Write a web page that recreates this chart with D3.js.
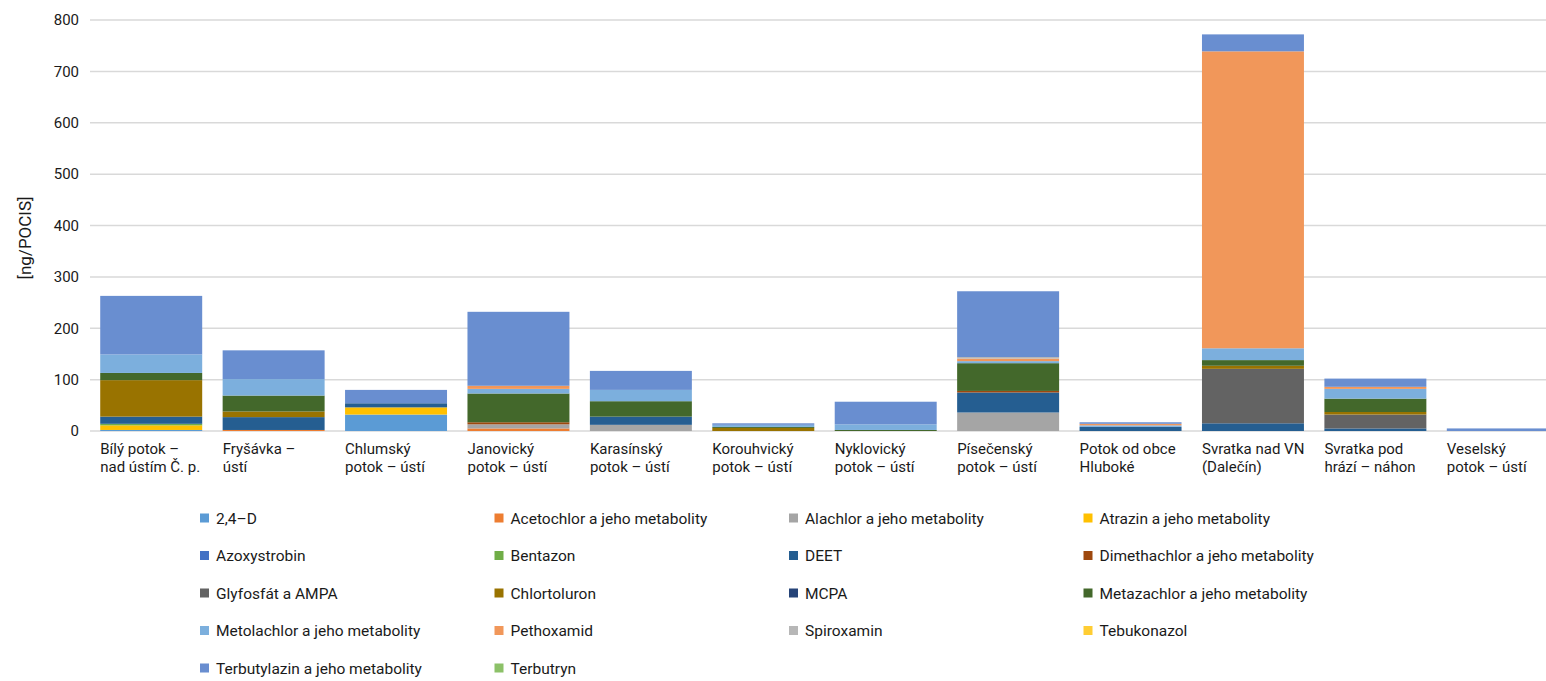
<!DOCTYPE html>
<html>
<head>
<meta charset="utf-8">
<script src="https://cdn.jsdelivr.net/npm/d3@7"></script>
<style>
  html, body { margin: 0; padding: 0; background: #fff; }
  svg { display: block; font-family: Roboto, "Noto Sans", sans-serif; }
</style>
</head>
<body>
<svg id="chart" width="1546" height="681"></svg>
<script>
// Sampling sites (two-line labels)
const sites = [
  ["Bílý potok –", "nad ústím Č. p."],
  ["Fryšávka –", "ústí"],
  ["Chlumský", "potok – ústí"],
  ["Janovický", "potok – ústí"],
  ["Karasínský", "potok – ústí"],
  ["Korouhvický", "potok – ústí"],
  ["Nyklovický", "potok – ústí"],
  ["Písečenský", "potok – ústí"],
  ["Potok od obce", "Hluboké"],
  ["Svratka nad VN", "(Dalečín)"],
  ["Svratka pod", "hrází – náhon"],
  ["Veselský", "potok – ústí"]
];

// Substances, in stacking order (bottom to top)
const substances = [
  "2,4–D",
  "Acetochlor a jeho metabolity",
  "Alachlor a jeho metabolity",
  "Atrazin a jeho metabolity",
  "Azoxystrobin",
  "Bentazon",
  "DEET",
  "Dimethachlor a jeho metabolity",
  "Glyfosfát a AMPA",
  "Chlortoluron",
  "MCPA",
  "Metazachlor a jeho metabolity",
  "Metolachlor a jeho metabolity",
  "Pethoxamid",
  "Spiroxamin",
  "Tebukonazol",
  "Terbutylazin a jeho metabolity",
  "Terbutryn"
];

const colors = [
  "#5b9bd5", "#ed7d31", "#a5a5a5", "#ffc000", "#4472c4", "#70ad47",
  "#255e91", "#9e480e", "#636363", "#997300", "#264478", "#43682b",
  "#7cafdd", "#f1975a", "#b7b7b7", "#ffcd33", "#698ed0", "#8cc168"
];

// Amounts per substance [ng/POCIS], one value per site (same order as sites)
const v24D         = [2, 0, 32, 0, 0, 0, 0, 0, 0, 0, 0, 0];
const vAcetochlor  = [0, 2, 0, 5, 0, 0, 0, 0, 0, 0, 0, 0];
const vAlachlor    = [0, 0, 0, 8, 12, 0, 0, 36, 0, 0, 0, 0];
const vAtrazin     = [9, 0, 14, 0, 0, 0, 0, 0, 0, 0, 0, 0];
const vAzoxy       = [0, 0, 0, 0, 0, 0, 0, 0, 0, 0, 0, 0];
const vBentazon    = [3, 0, 0, 0, 0, 0, 0, 0, 0, 0, 0, 0];
const vDEET        = [14, 25, 8, 0, 16, 0, 0, 39, 8, 15, 5, 0];
const vDimetha     = [0, 0, 0, 4, 0, 0, 0, 3, 0, 0, 0, 0];
const vGlyfosfat   = [0, 0, 0, 0, 0, 0, 0, 0, 0, 106, 27, 0];
const vChlortol    = [71, 11, 0, 0, 0, 6, 0, 0, 0, 6, 5, 0];
const vMCPA        = [0, 0, 0, 0, 0, 0, 0, 0, 0, 0, 0, 0];
const vMetazachlor = [14, 31, 0, 56, 30, 2, 2, 54, 0, 11, 26, 0];
const vMetolachlor = [36, 32, 0, 9, 22, 4, 11, 4, 3, 23, 19, 0];
const vPethoxamid  = [0, 0, 0, 6, 0, 0, 0, 5, 3, 578, 4, 0];
const vSpiroxamin  = [0, 0, 0, 0, 0, 0, 0, 3, 0, 0, 0, 0];
const vTebukonazol = [0, 0, 0, 0, 0, 0, 0, 0, 0, 0, 0, 0];
const vTerbutylaz  = [114, 56, 26, 144, 37, 3, 44, 128, 3, 33, 16, 5];
const vTerbutryn   = [0, 0, 0, 0, 0, 0, 0, 0, 0, 0, 0, 0];

const series = [v24D, vAcetochlor, vAlachlor, vAtrazin, vAzoxy, vBentazon, vDEET,
  vDimetha, vGlyfosfat, vChlortol, vMCPA, vMetazachlor, vMetolachlor, vPethoxamid,
  vSpiroxamin, vTebukonazol, vTerbutylaz, vTerbutryn];

const yTicks = [0, 100, 200, 300, 400, 500, 600, 700, 800];
const yTitle = "[ng/POCIS]";

// Rows for d3.stack
const rows = sites.map((s, i) => {
  const r = { site: i };
  substances.forEach((name, k) => { r[name] = series[k][i]; });
  return r;
});

const svg = d3.select("#chart");
const plot = { left: 90, right: 1559, top: 20, bottom: 431 };
const ink = "#1a1a1a";

const x = d3.scaleBand()
  .domain(d3.range(sites.length))
  .range([plot.left, plot.right])
  .paddingInner(0.167)
  .paddingOuter(0.0835);

const y = d3.scaleLinear().domain([0, 800]).range([plot.bottom, plot.top]);

// Gridlines
svg.append("g")
  .selectAll("line")
  .data(yTicks)
  .join("line")
  .attr("x1", plot.left).attr("x2", 1546)
  .attr("y1", d => y(d)).attr("y2", d => y(d))
  .attr("stroke", "#d9d9d9").attr("stroke-width", 1.5);

// Y axis tick labels
const yAxis = d3.axisLeft(y).tickValues(yTicks).tickSize(0).tickPadding(11);
const yg = svg.append("g").attr("transform", `translate(${plot.left},0)`).call(yAxis);
yg.select(".domain").remove();
yg.selectAll("text").attr("font-size", 15).attr("fill", ink)
  .attr("font-family", "Roboto, sans-serif");

// Y axis title
svg.append("text")
  .attr("transform", `translate(31,${238}) rotate(-90)`)
  .attr("text-anchor", "middle")
  .attr("font-size", 17).attr("fill", ink)
  .text(yTitle);

// Stacked bars
const stack = d3.stack().keys(substances);
const layers = stack(rows);

svg.append("g")
  .selectAll("g")
  .data(layers)
  .join("g")
  .attr("fill", (d, k) => colors[k])
  .selectAll("rect")
  .data(d => d.filter(p => p[1] - p[0] > 0))
  .join("rect")
  .attr("x", d => x(d.data.site))
  .attr("width", x.bandwidth())
  .attr("y", d => y(d[1]))
  .attr("height", d => y(d[0]) - y(d[1]));

// Category labels (left-aligned to bar start)
const cat = svg.append("g").attr("font-size", 15).attr("fill", ink);
sites.forEach((lines, i) => {
  const t = cat.append("text").attr("x", x(i)).attr("y", 454);
  lines.forEach((ln, j) => {
    t.append("tspan").attr("x", x(i)).attr("dy", j === 0 ? 0 : 18).text(ln);
  });
});

// Legend: 4 columns
const legend = svg.append("g").attr("font-size", 15.5).attr("fill", ink);
const colX = [200, 494.5, 789, 1083.5];
substances.forEach((name, k) => {
  const col = k % 4, row = Math.floor(k / 4);
  const cx = colX[col];
  const cy = 518 + row * 37.5;
  legend.append("rect")
    .attr("x", cx).attr("y", cy - 4.5)
    .attr("width", 9).attr("height", 9)
    .attr("fill", colors[k]);
  legend.append("text")
    .attr("x", cx + 16).attr("y", cy + 5.5)
    .text(name);
});
</script>
</body>
</html>
